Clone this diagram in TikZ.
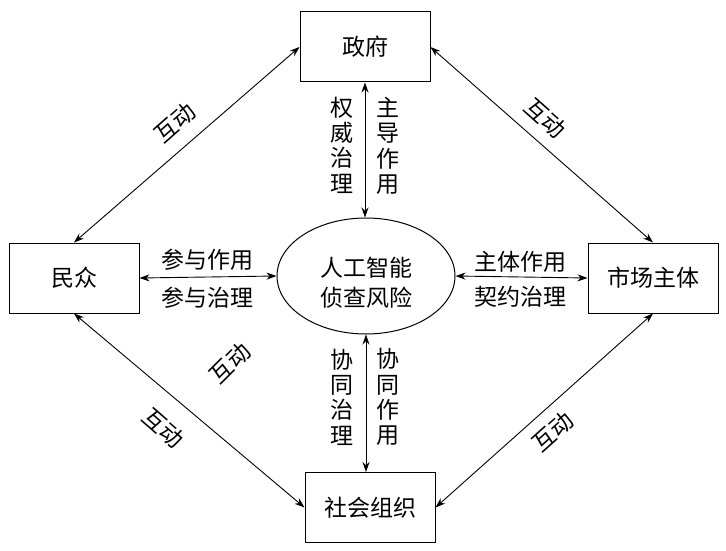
\documentclass[tikz,border=0pt]{standalone}
\usepackage{fontspec}
\setmainfont{Noto Sans CJK SC}
\usetikzlibrary{arrows.meta,shapes.geometric}
\begin{document}
\begin{tikzpicture}[x=1pt,y=-1pt,
  every node/.style={font=\fontsize{23}{25.3}\selectfont, inner sep=0pt},
  box/.style={draw, line width=1pt, minimum width=130pt, minimum height=70pt},
  conn/.style={line width=0.9pt, {Stealth[length=10pt,width=7pt]}-{Stealth[length=10pt,width=7pt]}},
  vlbl/.style={align=center},
  ]
\useasboundingbox (0,0) rectangle (726,551);
% nodes
\node[box] (gov) at (365,47) {政府};
\node[box] (people) at (74,278) {民众};
\node[box] (market) at (653,278) {市场主体};
\node[box] (social) at (370,507.5) {社会组织};
\node[draw, ellipse, line width=1pt, minimum width=178pt, minimum height=116pt] (risk) at (366,276) {};
\node[align=center] (risktext) at (366,283) {人工智能\\[5pt]侦查风险};
% connectors
\draw[conn] (gov.south) -- (gov.south |- risk.north);
\draw[conn] (social.north -| risk.south) -- (risk.south);
\draw[conn] (people.east) -- (risk.west);
\draw[conn] (market.west) -- (risk.east);
\draw[conn] (gov.west) -- (people.north);
\draw[conn] (gov.east) -- (market.north);
\draw[conn] (people.south) -- (social.west);
\draw[conn] (social.east) -- (market.south);
% labels
\node[vlbl] (l1) at (342,145) {权\\威\\治\\理};
\node[vlbl] (l2) at (388,146) {主\\导\\作\\用};
\node[vlbl] (l3) at (342,397) {协\\同\\治\\理};
\node[vlbl] (l4) at (388,397) {协\\同\\作\\用};
\node (l5) at (207,260) {参与作用};
\node (l6) at (207,298) {参与治理};
\node (l7) at (520,262) {主体作用};
\node (l8) at (520,297) {契约治理};
\node[rotate=41.5] (i1) at (175,123) {互动};
\node[rotate=-41.6] (i2) at (545,118) {互动};
\node[rotate=45] (i3) at (230,363) {互动};
\node[rotate=-41] (i4) at (163,428) {互动};
\node[rotate=42] (i5) at (553,432) {互动};
\end{tikzpicture}
\end{document}
